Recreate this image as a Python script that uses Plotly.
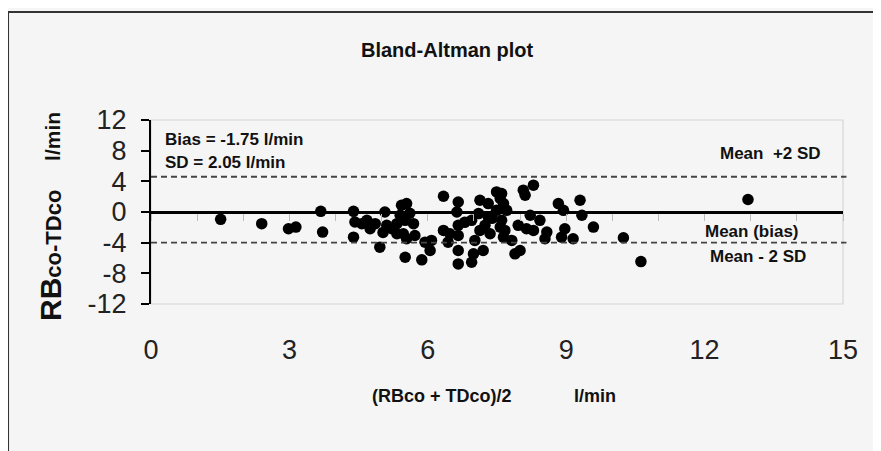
import plotly.graph_objects as go

# ---- data ----
mean_values = [1.51, 2.40, 2.98, 3.14, 3.68, 3.72, 4.39, 4.42, 4.39, 4.57,
               4.68, 4.75, 4.86, 4.96, 5.07, 5.11, 5.22, 5.33, 5.40, 5.43,
               5.47, 5.54, 5.51, 5.33, 5.54, 5.51, 5.69, 5.72, 5.94, 6.08,
               6.05, 5.87, 6.34, 6.34, 6.48, 6.44, 6.66, 6.63, 6.66, 6.66,
               6.66, 6.66, 6.95, 6.99, 6.95, 7.13, 7.10, 7.13, 7.20, 7.49,
               7.57, 7.31, 7.31, 7.35, 7.57, 7.64, 7.49, 7.71, 7.60, 7.64,
               7.60, 7.67, 7.82, 7.89, 8.00, 7.96, 8.07, 8.11, 8.29, 8.22,
               8.14, 8.29, 8.43, 8.58, 8.54, 8.83, 8.94, 8.97, 8.90, 9.15,
               9.30, 9.34, 9.59, 10.24, 10.62, 12.94, 7.24, 7.39, 7.02, 6.80,
               5.61, 5.03]
diff_values = [-0.96, -1.52, -2.18, -1.97, 0.09, -2.62, 0.09, -1.31, -3.28, -1.52,
               -1.09, -2.18, -1.52, -4.59, 0.00, -1.74, -2.18, -1.52, -0.43, 0.88,
               -2.83, -3.49, -5.90, -2.83, 1.10, -1.09, -1.52, -3.06, -3.93, -3.71,
               -5.02, -6.24, 2.06, -2.40, -2.83, -3.93, 1.31, 0.00, -1.74, -3.06,
               -5.02, -6.77, -6.56, -5.46, -1.09, 1.53, -0.21, -2.40, -5.02, 2.62,
               1.76, 1.10, -0.66, -2.83, -1.97, -3.28, 0.22, 0.22, 2.41, 1.10,
               -1.09, -2.40, -3.71, -5.46, -5.02, -1.74, 2.85, 2.19, 3.50, -0.43,
               -2.18, -2.40, -1.09, -2.62, -3.49, 1.10, 0.22, -2.18, -3.28, -3.49,
               1.53, -0.43, -1.97, -3.36, -6.47, 1.63, -1.74, -0.83, -3.71, -1.35,
               -0.17, -2.66]

upper_limit = 4.6
lower_limit = -4.0
x_ticks = [0, 3, 6, 9, 12, 15]
y_ticks = [12, 8, 4, 0, -4, -8, -12]
y_tick_labels = ["12", "8", "4", "0", "-4", "-8", "-12"]

FONT = "Liberation Sans, Arial, sans-serif"
BG = "#f5f5f5"

fig = go.Figure()
fig.add_trace(go.Scatter(
    x=mean_values, y=diff_values, mode="markers",
    marker=dict(color="black", size=11.5, line=dict(width=0)),
    showlegend=False, hoverinfo="x+y"))
# empty trace so the zero-crossing axis (x2) is drawn
fig.add_trace(go.Scatter(x=[], y=[], xaxis="x2", yaxis="y",
                         showlegend=False, hoverinfo="skip"))

# reference lines
for lim in (upper_limit, lower_limit):
    fig.add_shape(type="line", xref="paper", x0=0, x1=1.005, yref="y",
                  y0=lim, y1=lim,
                  line=dict(color="#444", width=1.8, dash="6px,4px"))

# plot-area border (light) and outer frame
fig.add_shape(type="rect", xref="paper", yref="paper", x0=0, x1=1, y0=0, y1=1,
              line=dict(color="#d6d6d6", width=1.2), layer="below")
fig.add_shape(type="rect", xref="paper", yref="paper",
              x0=-0.2066, x1=1.3, y0=-1.2, y1=1.587,
              line=dict(color="#333", width=2), layer="below")

ann = []
def label(text, x, y, size=17, xanchor="left", xref="x", yref="y", angle=0):
    ann.append(dict(text=text, x=x, y=y, xref=xref, yref=yref, showarrow=False,
                    xanchor=xanchor, yanchor="middle", textangle=angle,
                    font=dict(family=FONT, size=size, color="#111")))

label("<b>Bias = -1.75 l/min</b>", 0.26, 9.4)
label("<b>SD = 2.05 l/min</b>", 0.26, 6.5)
label("<b>Mean  +2 SD</b>", 12.29, 7.57)
label("<b>Mean (bias)</b>", 11.97, -2.53)
label("<b>Mean - 2 SD</b>", 12.07, -5.8)
label("<b>Bland-Altman plot</b>", 0.428, 1.38, size=20, xanchor="center",
      xref="paper", yref="paper")
label("<b>(RBco + TDco)/2</b>", 0.4205, -0.5, size=18, xanchor="center",
      xref="paper", yref="paper")
label("<b>l/min</b>", 0.6415, -0.5, size=18, xanchor="center",
      xref="paper", yref="paper")
label("<b>l/min</b>", -0.1416, 0.908, size=21, xanchor="center",
      xref="paper", yref="paper", angle=-90)
label("<b><span style='font-size:30px'>RB</span>co-TDco</b>", -0.146, 0.266,
      size=22, xanchor="center", xref="paper", yref="paper", angle=-90)

fig.update_layout(
    width=881, height=451,
    margin=dict(l=143, r=46, t=112, b=155),
    paper_bgcolor=BG, plot_bgcolor=BG,
    annotations=ann,
    xaxis=dict(range=[0, 15], tickvals=x_ticks, ticks="", showline=False,
               showgrid=False, zeroline=False, ticklabelstandoff=27,
               tickfont=dict(family=FONT, size=27, color="#222")),
    xaxis2=dict(range=[0, 15], overlaying="x", anchor="free", position=0.5,
                side="bottom", showline=True, linecolor="black", linewidth=2.5,
                ticks="outside", dtick=1, tick0=0, ticklen=7, tickcolor="#bbb",
                tickwidth=1, showticklabels=False, showgrid=False, zeroline=False),
    yaxis=dict(range=[-12, 12], tickvals=y_ticks, ticktext=y_tick_labels,
               showline=True,
               linecolor="black", linewidth=2, ticks="outside", ticklen=8,
               tickcolor="black", tickwidth=1.5, showgrid=False, zeroline=False,
               ticklabelstandoff=9,
               tickfont=dict(family=FONT, size=27, color="#222")),
)

fig.write_html("out.html")
